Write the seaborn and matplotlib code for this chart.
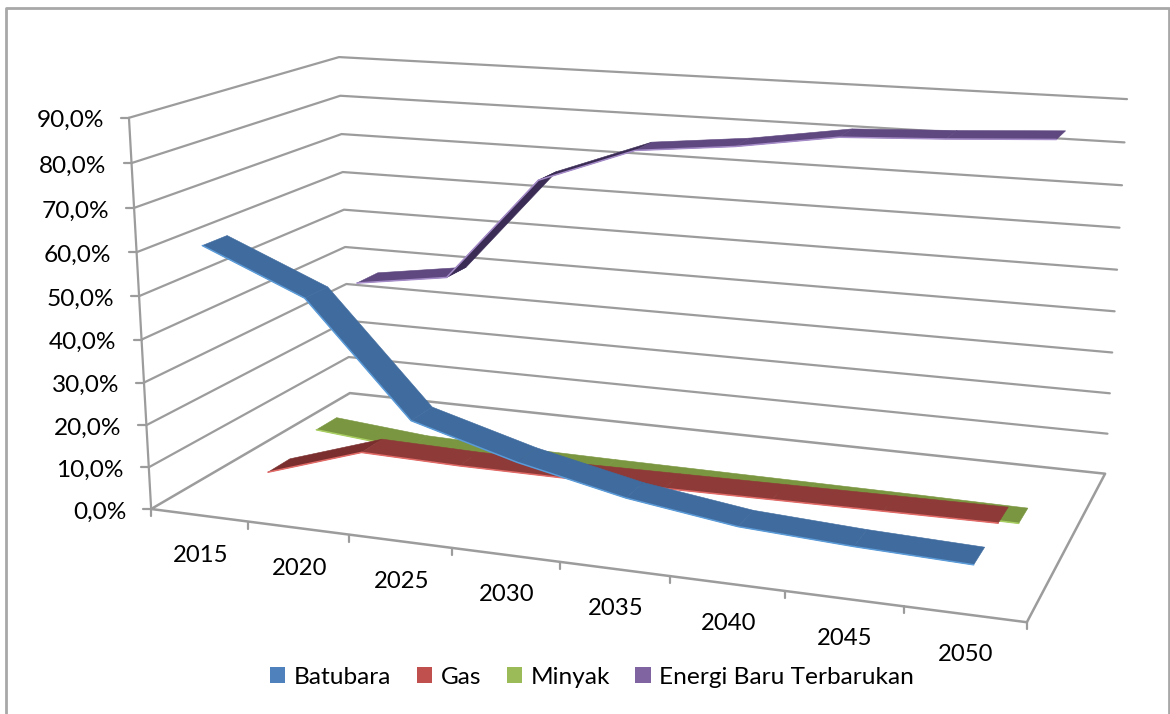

import numpy as np
import pandas as pd
import matplotlib
matplotlib.use("Agg")
import matplotlib.pyplot as plt
from matplotlib.patches import Patch
import seaborn as sns

years = ["2015", "2020", "2025", "2030", "2035", "2040", "2045", "2050"]
batubara = [61.0, 51.1, 25.6, 18.8, 13.6, 10.2, 8.9, 8.1]
gas = [0.3, 8.0, 7.5, 7.5, 7.8, 8.1, 8.4, 8.7]
minyak = [3.6, 1.5, 1.0, 0.8, 0.7, 0.6, 0.5, 0.3]
ebt = [35.5, 39.0, 65.4, 74.3, 76.8, 80.5, 81.6, 83.0]
value_ticks = [0, 10, 20, 30, 40, 50, 60, 70, 80, 90]
tick_labels = ["0,0%", "10,0%", "20,0%", "30,0%", "40,0%", "50,0%", "60,0%", "70,0%", "80,0%", "90,0%"]
VMAX = 90.0

# name, values, lane depth, half width, face, steep-rise face, light edge, legend colour
styles = {
    "Energi Baru Terbarukan": (ebt, 0.875, 0.06, "#5f4880", "#3b2c55", "#a58cc8", "#8064A2"),
    "Minyak": (minyak, 0.625, 0.055, "#7a9640", "#7a9640", "#a9cf62", "#9BBB59"),
    "Gas": (gas, 0.375, 0.055, "#8e3a38", "#7a2f2e", "#e26b68", "#C0504D"),
    "Batubara": (batubara, 0.125, 0.055, "#3f6b9e", "#3f6b9e", "#5b9bd8", "#4F81BD"),
}
legend_order = ["Batubara", "Gas", "Minyak", "Energi Baru Terbarukan"]

# camera: box corners (category, value, depth) -> picture position
camera = [(0, 0, 0, 151, 509), (0, 1, 0, 129, 118), (0, 0, 1, 350, 393), (0, 1, 1, 339, 57),
          (1, 1, 1, 1127, 99), (1, 0, 1, 1105, 474), (1, 0, 0, 1027, 622)]
A, b = [], []
for u, v, w, x, y in camera:
    A.append([u, v, w, 1, 0, 0, 0, 0, -x * u, -x * v, -x * w]); b.append(x)
    A.append([0, 0, 0, 0, u, v, w, 1, -y * u, -y * v, -y * w]); b.append(y)
P = np.append(np.linalg.lstsq(np.array(A, float), np.array(b, float), rcond=None)[0], 1).reshape(3, 4)


def proj(u, val, w):
    h = P @ np.array([u, val / VMAX, w, 1.0])
    return h[0] / h[2], h[1] / h[2]


sns.set_theme(style="white")
plt.rcParams["font.family"] = ["Lato", "DejaVu Sans"]
fig = plt.figure(figsize=(11.7, 7.14), dpi=100)
ax = fig.add_axes([0, 0, 1, 1])
ax.set_xlim(0, 1170)
ax.set_ylim(714, 0)
ax.axis("off")


def line(points, color="#9c9c9c", lw=1.6, z=1):
    df = pd.DataFrame(points, columns=["x", "y"])
    sns.lineplot(data=df, x="x", y="y", sort=False, estimator=None, color=color, lw=lw, ax=ax, zorder=z,
                 legend=False, solid_capstyle="round")


# outer frame
line([(6, 714), (6, 8), (1169, 8), (1169, 714)], color="#a8a8a8", lw=2)

# walls and value axis
for t, lab in zip(value_ticks, tick_labels):
    if t > 0:
        line([proj(0, t, 0), proj(0, t, 1), proj(1, t, 1)])
    fx, fy = proj(0, t, 0)
    line([(fx - 8, fy), (fx, fy)])
    ax.text(fx - 25, fy + 3, lab, ha="right", va="center", fontsize=17.6, color="#000000")
line([proj(0, 0, 0), proj(0, VMAX, 0)])
line([proj(0, 0, 0), proj(0, 0, 1), proj(1, 0, 1), proj(1, 0, 0), proj(0, 0, 0)], lw=1.8)

# category axis
for k in range(len(years) + 1):
    fx, fy = proj(k / len(years), 0, 0)
    line([(fx, fy), (fx, fy + 7)])
for k, lab in enumerate(years):
    fx, fy = proj((k + 0.5) / len(years), 0, 0)
    ax.text(fx + 1, fy + 40, lab, ha="center", va="center", fontsize=17.2, color="#000000")

# ribbons, back to front
for z, (name, (vals, lane, half, face, rise, edge, _)) in enumerate(styles.items()):
    n = len(vals)
    us = [(i + 0.5) / n for i in range(n)]
    for i in range(n - 1):
        quad = [proj(us[i], vals[i], lane - half), proj(us[i + 1], vals[i + 1], lane - half),
                proj(us[i + 1], vals[i + 1], lane + half), proj(us[i], vals[i], lane + half)]
        steep = vals[i + 1] - vals[i] > 5
        c = rise if steep else face
        ax.fill(*zip(*quad), color=c, lw=0.4, zorder=5 + z)
    line([proj(u, val, lane - half) for u, val in zip(us, vals)], color=edge, lw=1.1, z=5 + z)

handles = [Patch(facecolor=styles[k][6], edgecolor="none", label=k) for k in legend_order]
ax.legend(handles=handles, ncol=4, loc="center", bbox_to_anchor=(592, 677), bbox_transform=ax.transData,
          frameon=False, fontsize=17.6, handlelength=0.62, handleheight=0.62, handletextpad=0.35,
          columnspacing=1.05, labelcolor="#000000")
fig.savefig("out.png", dpi=100)
